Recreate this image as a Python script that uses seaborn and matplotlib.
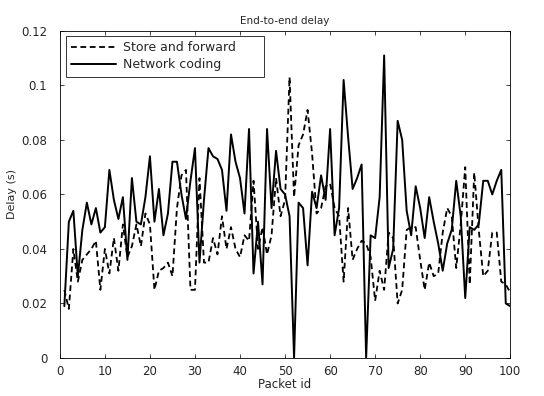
import pandas as pd
import matplotlib
matplotlib.use("Agg")
import matplotlib.pyplot as plt
import seaborn as sns
from matplotlib.ticker import FuncFormatter

# Packet ids and measured delays (s)
packet_id = list(range(1, 101))

store_forward = [
    0.025, 0.018, 0.040, 0.028, 0.036, 0.038, 0.040, 0.043, 0.025, 0.040,
    0.031, 0.044, 0.032, 0.049, 0.037, 0.041, 0.049, 0.041, 0.053, 0.049,
    0.025, 0.032, 0.033, 0.035, 0.030, 0.055, 0.067, 0.069, 0.025, 0.025,
    0.066, 0.035, 0.035, 0.044, 0.038, 0.052, 0.040, 0.048, 0.040, 0.037,
    0.045, 0.043, 0.065, 0.040, 0.048, 0.038, 0.045, 0.066, 0.052, 0.058,
    0.103, 0.059, 0.078, 0.082, 0.091, 0.075, 0.053, 0.055, 0.063, 0.064,
    0.055, 0.052, 0.028, 0.055, 0.036, 0.040, 0.043, 0.042, 0.037, 0.021,
    0.032, 0.025, 0.046, 0.044, 0.020, 0.025, 0.047, 0.048, 0.048, 0.036,
    0.025, 0.035, 0.030, 0.031, 0.046, 0.055, 0.052, 0.033, 0.049, 0.070,
    0.027, 0.068, 0.047, 0.030, 0.032, 0.046, 0.046, 0.028, 0.027, 0.024,
]

network_coding = [
    0.019, 0.050, 0.054, 0.030, 0.047, 0.057, 0.049, 0.055, 0.046, 0.048,
    0.069, 0.058, 0.051, 0.059, 0.036, 0.066, 0.050, 0.049, 0.059, 0.074,
    0.050, 0.062, 0.045, 0.053, 0.072, 0.072, 0.060, 0.051, 0.065, 0.077,
    0.035, 0.058, 0.077, 0.074, 0.073, 0.069, 0.054, 0.082, 0.072, 0.066,
    0.053, 0.084, 0.031, 0.050, 0.027, 0.084, 0.055, 0.076, 0.062, 0.060,
    0.052, 0.000, 0.057, 0.055, 0.034, 0.061, 0.055, 0.067, 0.058, 0.084,
    0.045, 0.055, 0.102, 0.081, 0.062, 0.066, 0.071, 0.000, 0.045, 0.044,
    0.059, 0.111, 0.033, 0.040, 0.087, 0.080, 0.054, 0.045, 0.063, 0.055,
    0.044, 0.059, 0.050, 0.042, 0.032, 0.042, 0.047, 0.065, 0.052, 0.022,
    0.048, 0.047, 0.049, 0.065, 0.065, 0.060, 0.065, 0.069, 0.020, 0.019,
]

df = pd.DataFrame({
    "packet": packet_id,
    "store": store_forward,
    "coding": network_coding,
})

sns.set_style("ticks")
plt.rcParams["font.family"] = ["DejaVu Sans"]
plt.rcParams["xtick.direction"] = "in"
plt.rcParams["ytick.direction"] = "in"

fig = plt.figure(figsize=(5.44, 3.96), dpi=100)
ax = fig.add_axes([0.110, 0.096, 0.828, 0.826])

sns.lineplot(x="packet", y="store", data=df, ax=ax, color="black",
             linewidth=1.3, linestyle=(0, (3.2, 2)), label="Store and forward")
sns.lineplot(x="packet", y="coding", data=df, ax=ax, color="black",
             linewidth=1.4, label="Network coding")

ax.set_xlim(0, 100)
ax.set_ylim(0, 0.12)
ax.set_xticks(range(0, 101, 10))
ax.set_yticks([0, 0.02, 0.04, 0.06, 0.08, 0.1, 0.12])
ax.yaxis.set_major_formatter(FuncFormatter(lambda v, p: "%g" % round(v, 2)))
ax.tick_params(labelsize=8.5, length=3, width=0.6, top=True, right=True,
               labeltop=False, labelright=False)
ax.tick_params(axis="y", pad=9)
ax.tick_params(axis="x", pad=5)
for s in ax.spines.values():
    s.set_linewidth(0.6)
    s.set_color("black")

ax.set_title("End-to-end delay", fontsize=7.5, pad=5)
ax.set_xlabel("Packet id", fontsize=8.5, labelpad=0)
ax.set_ylabel("Delay (s)", fontsize=8, labelpad=3)

# legend box stretched to the width of the original MATLAB legend
leg = ax.legend(loc="upper left", bbox_to_anchor=(0.013, 0.985, 0.44, 0.0),
                mode="expand", fontsize=9, frameon=True, fancybox=False,
                borderpad=0.45, handlelength=3.6, labelspacing=0.3,
                borderaxespad=0.0, handletextpad=0.55)
leg.get_frame().set_edgecolor("black")
leg.get_frame().set_linewidth(0.7)

plt.savefig("out.png", dpi=100)
